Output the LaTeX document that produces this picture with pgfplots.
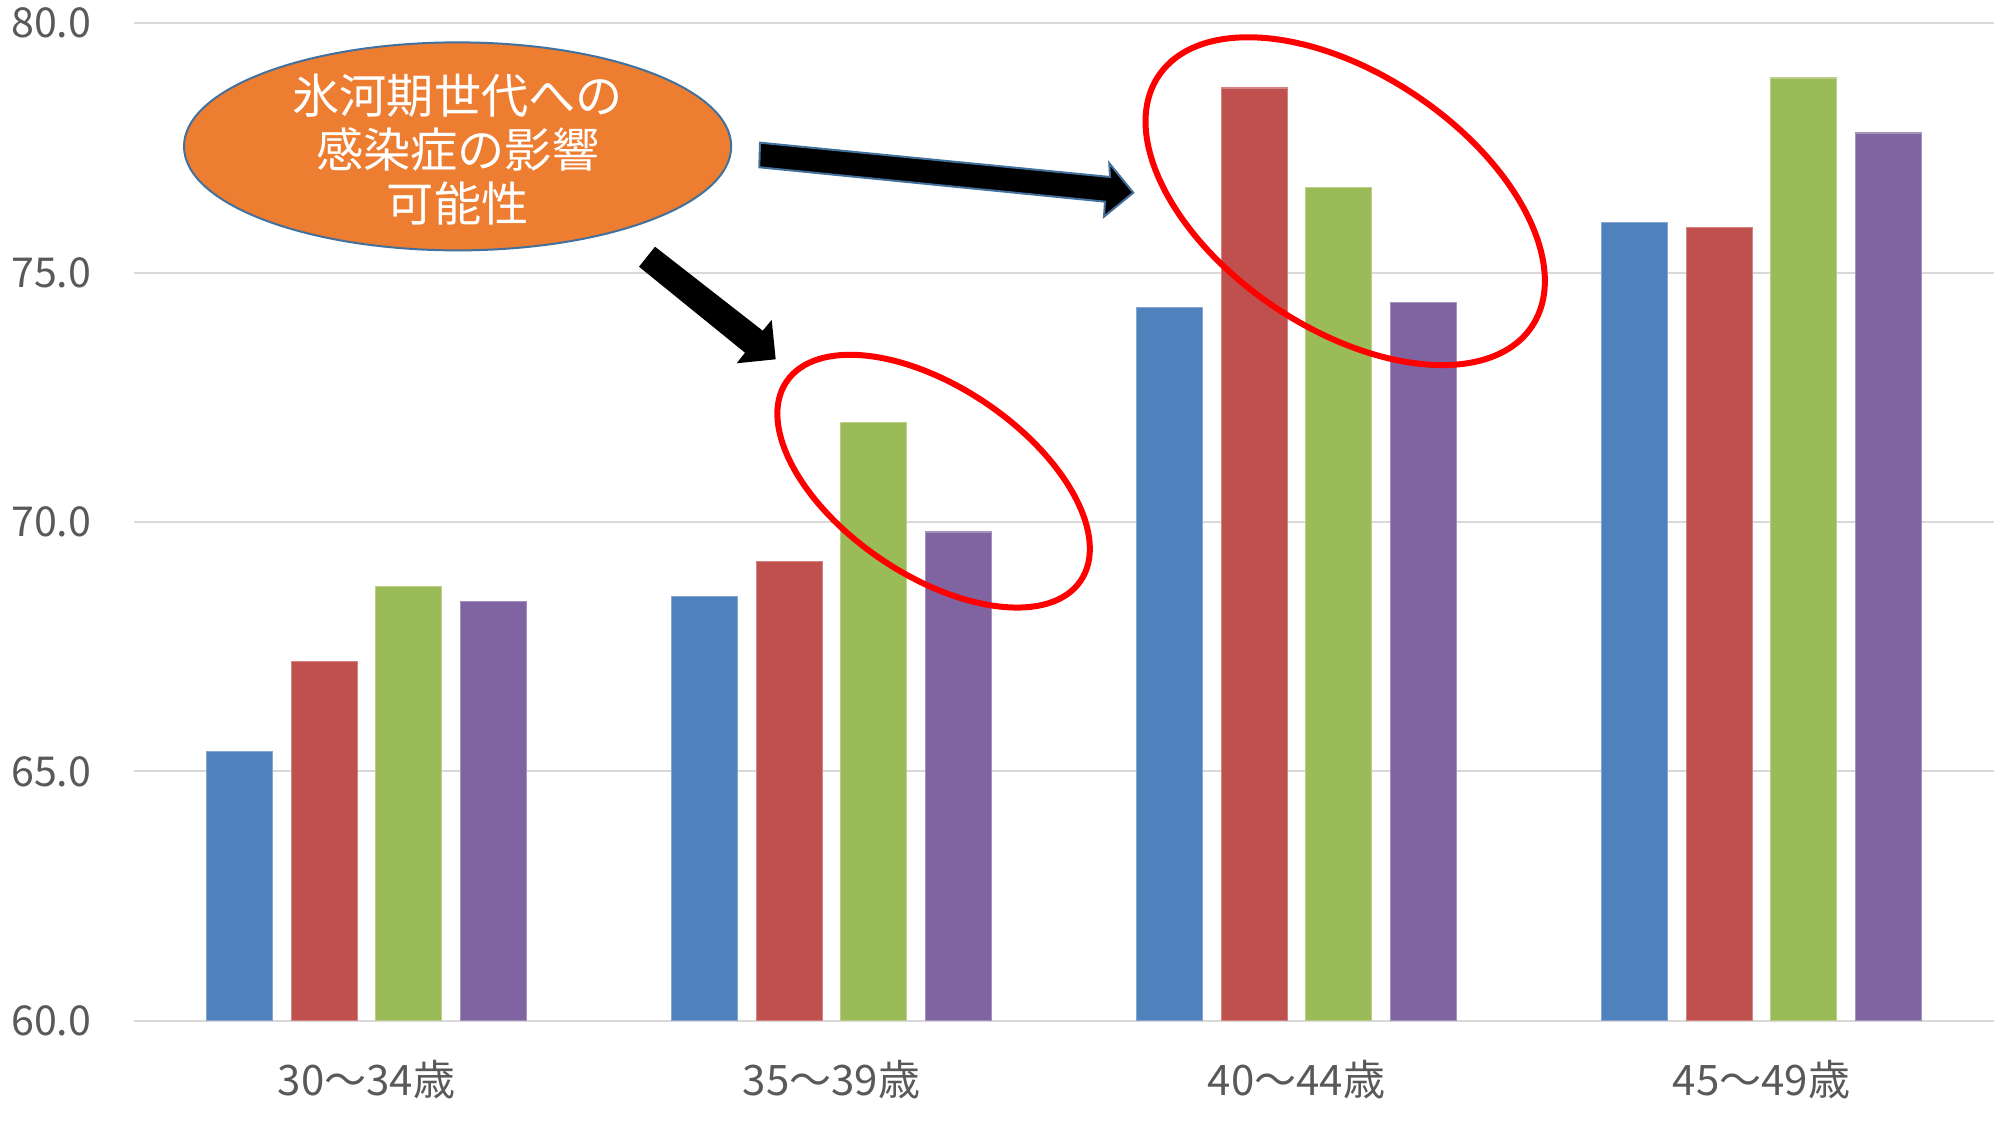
\documentclass[border=0pt]{standalone}
\usepackage{pgfplots}
\pgfplotsset{compat=1.18}
\usepackage{fontspec}
\setmainfont{Noto Sans CJK JP}
\definecolor{sblue}{HTML}{4F81BD}
\definecolor{sred}{HTML}{C0504D}
\definecolor{sgreen}{HTML}{9BBB59}
\definecolor{spurple}{HTML}{8064A2}
\definecolor{sorange}{HTML}{ED7D31}
\definecolor{outline}{HTML}{41719C}
\definecolor{tickgray}{HTML}{595959}
\definecolor{gridgray}{HTML}{D9D9D9}

\begin{document}
\begin{tikzpicture}
  \begin{axis}[
      at={(0,0)}, anchor=south west,
      scale only axis,
      width=465pt, height=249.4pt,
      xmin=-0.5, xmax=3.5,
      ymin=60, ymax=80,
      ybar=4.65pt,
      bar width=16.5pt,
      xtick={0,1,2,3},
      xticklabels={30～34歳,35～39歳,40～44歳,45～49歳},
      ytick={60,65,70,75,80},
      /pgf/number format/assume math mode=true,
      yticklabel style={/pgf/number format/fixed,
          /pgf/number format/fixed zerofill,
          /pgf/number format/precision=1,
          anchor=east, inner sep=0pt, xshift=-10.5pt,
          font=\fontsize{10.3}{12}\selectfont},
      xticklabel style={anchor=center, inner sep=0pt, yshift=-14.8pt,
          font=\fontsize{10.5}{12}\selectfont},
      ticklabel style={text=tickgray},
      major tick length=0pt,
      axis line style={draw=none},
      ymajorgrids,
      grid style={gridgray, line width=0.5pt},
    ]
    \addplot[fill=sblue, draw=sblue!70!white, line width=0.3pt] coordinates {
        (0,65.4) (1,68.5) (2,74.3) (3,76.0)};
    \addplot[fill=sred, draw=sred!70!white, line width=0.3pt] coordinates {
        (0,67.2) (1,69.2) (2,78.7) (3,75.9)};
    \addplot[fill=sgreen, draw=sgreen!70!white, line width=0.3pt] coordinates {
        (0,68.7) (1,72.0) (2,76.7) (3,78.9)};
    \addplot[fill=spurple, draw=spurple!70!white, line width=0.3pt] coordinates {
        (0,68.4) (1,69.8) (2,74.4) (3,77.8)};
  \end{axis}

  % callout
  \draw[draw=outline, line width=0.5pt, fill=sorange]
    (80.9pt,218.6pt) ellipse [x radius=68.4pt, y radius=26pt];
  \node[text=white, font=\fontsize{11.8}{13.6}\selectfont, align=center, inner sep=0pt]
    at (80.9pt,217.8pt) {氷河期世代への\\感染症の影響\\可能性};

  % arrows, in pixel coordinates of the picture
  \begin{scope}[shift={(-33.5pt,255.2pt)}, x=0.25pt, y=-0.25pt]
    \draw[fill=black, draw=outline, line width=0.5pt]
      (760,142.7) -- (1110,177) -- (1109.3,163.3) -- (1133.3,192.7)
      -- (1104,216.7) -- (1105,201.7) -- (759.3,167.3) -- cycle;
    \fill[black]
      (655,246.7) -- (762.7,330.7) -- (771.7,320) -- (775.7,359.3)
      -- (736.7,363.3) -- (745,352.7) -- (639,266.7) -- cycle;
  \end{scope}

  % red rings
  \draw[red, line width=1.5pt, rotate around={-34.1:(199.9pt,134.9pt)}]
    (199.9pt,134.9pt) ellipse [x radius=44.4pt, y radius=23.5pt];
  \draw[red, line width=1.5pt, rotate around={-33.9:(302.8pt,204.9pt)}]
    (302.8pt,204.9pt) ellipse [x radius=56.2pt, y radius=31.8pt];

  \pgfresetboundingbox
  \path (-33.5pt,-25.3pt) rectangle (465pt,255.2pt);
\end{tikzpicture}
\end{document}
